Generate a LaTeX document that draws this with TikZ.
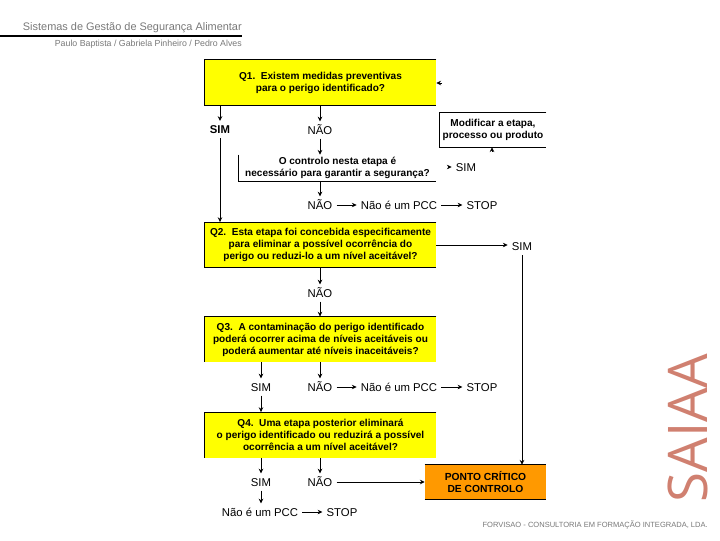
\documentclass[tikz,border=0pt]{standalone}
\usepackage{fontspec}
\setmainfont{Liberation Sans}
\newfontfamily\saiaafont{Open Sans}
\usetikzlibrary{arrows.meta}
\definecolor{qyellow}{RGB}{255,255,0}
\definecolor{pccorange}{RGB}{255,153,0}
\definecolor{saiaared}{RGB}{208,128,112}
\definecolor{headgray}{RGB}{120,120,120}
\tikzset{
  qbox/.style={fill=qyellow,inner sep=0pt,minimum width=173.25pt,minimum height=34pt,align=center,font=\bfseries\fontsize{7.55}{9}\selectfont},
  answer/.style={inner sep=3pt,text height=6.2pt,text depth=0.2pt,font=\fontsize{8.5}{9}\selectfont},
  flow/.style={-{Stealth[length=3.6pt,width=3.4pt]},line width=0.6pt},
  edge/.style={line width=0.7pt},
}
\begin{document}
\begin{tikzpicture}[x=0.75pt,y=0.75pt,yscale=-1,xscale=1]
\useasboundingbox (0,0) rectangle (720,540);

% Header
\node (title) [anchor=east,inner sep=0pt,text=headgray,font=\fontsize{8.2}{9}\selectfont] at (242,28) {Sistemas de Gestão de Segurança Alimentar};
\node (authors) [anchor=east,inner sep=0pt,text=headgray,font=\fontsize{6.6}{7}\selectfont] at (242,44.5) {Paulo Baptista / Gabriela Pinheiro / Pedro Alves};
\coordinate (barleft) at (0,36);
\draw [line width=2pt] (barleft) -- (barleft -| title.east);

% Question boxes
\node (q1) [qbox] at (320.5,82.5) {Q1.\ \ Existem medidas preventivas\\para o perigo identificado?};
\node (q2) [qbox] at (320.5,245) {Q2.\ \ Esta etapa foi concebida especificamente\\para eliminar a possível ocorrência do\\perigo ou reduzi-lo a um nível aceitável?};
\node (q3) [qbox] at (320.5,339.5) {Q3.\ \ A contaminação do perigo identificado\\poderá ocorrer acima de níveis aceitáveis ou\\poderá aumentar até níveis inaceitáveis?};
\node (q4) [qbox] at (320.5,435) {Q4.\ \ Uma etapa posterior eliminará\\o perigo identificado ou reduzirá a possível\\ocorrência a um nível aceitável?};
\node (pcc) [fill=pccorange,inner sep=0pt,minimum width=90.75pt,minimum height=25.5pt,align=center,font=\bfseries\fontsize{7.7}{9.5}\selectfont] at (485.5,482) {PONTO CRÍTICO\\DE CONTROLO};
\node (control) [inner sep=0pt,minimum width=147.75pt,minimum height=19.5pt,align=center,font=\bfseries\fontsize{7.55}{9}\selectfont] at (337.5,168) {O controlo nesta etapa é\\necessário para garantir a segurança?};
\node (modify) [inner sep=0pt,minimum width=79.5pt,minimum height=25.5pt,align=center,font=\bfseries\fontsize{7.55}{9}\selectfont] at (493,130) {Modificar a etapa,\\processo ou produto};

% Open borders
\draw [edge] (q1.north east) -- (q1.north west) -- (q1.south west) -- (q1.south east);
\draw [edge] (q2.north east) -- (q2.north west) -- (q2.south west) -- (q2.south east);
\draw [edge] (q3.north east) -- (q3.north west) -- (q3.south west);
\draw [edge] (q4.north east) -- (q4.north west) -- (q4.south west);
\draw [edge] (pcc.north west) -- (pcc.north east);
\draw [edge] (pcc.south west) -- (pcc.south east);
\draw [edge] (control.north west) -- (control.south west) -- (control.south east);
\draw [edge] (modify.north east) -- (modify.north west) -- (modify.south west) -- (modify.south east);

% Text Node
\node (sim1) [answer,font=\bfseries\fontsize{8.5}{9}\selectfont] at (220,129.5) {SIM};
\node (nao1) [answer] at (320,130) {NÃO};
\node (sim2) [answer] at (466,167) {SIM};
\node (nao2) [answer] at (320,205) {NÃO};
\node (npcc1) [answer] at (399,205) {Não é um PCC};
\node (stop1) [answer] at (482,205) {STOP};
\node (sim3) [answer] at (522,246.5) {SIM};
\node (nao3) [answer] at (320,293) {NÃO};
\node (sim4) [answer] at (261,387) {SIM};
\node (nao4) [answer] at (320,387) {NÃO};
\node (npcc2) [answer] at (399,387) {Não é um PCC};
\node (stop2) [answer] at (482,387) {STOP};
\node (sim5) [answer] at (261,482) {SIM};
\node (nao5) [answer] at (320,482) {NÃO};
\node (npcc3) [answer] at (260,512) {Não é um PCC};
\node (stop3) [answer] at (342,512) {STOP};

% Footer
\node (footer) [anchor=east,inner sep=0pt,text=headgray,font=\fontsize{5.65}{6}\selectfont] at (708,525) {FORVISAO - CONSULTORIA EM FORMAÇÃO INTEGRADA, LDA.};
\node (saiaa) [rotate=90,inner sep=0pt,text=saiaared,font=\saiaafont\fontsize{41}{41}\selectfont] at (688,428) {SAIAA};

% Straight Lines
\draw [flow] (q1.south -| sim1) -- (sim1.north);
\draw [flow] (q1.south -| nao1) -- (nao1.north);
\draw [flow] (sim1.south) -- (q2.north -| sim1);
\draw [flow] (nao1.south) -- (control.north -| nao1);
\draw [flow] (control.south -| nao2) -- (nao2.north);
\draw [flow] (nao2.east) -- (npcc1.west);
\draw [flow] (npcc1.east) -- (stop1.west);
\draw [flow] (q2.south -| nao3) -- (nao3.north);
\draw [flow] (nao3.south) -- (q3.north -| nao3);
\draw [flow] (q2.east) -- (q2.east -| sim3.west);
\draw [flow] (sim3.south) -- (pcc.north -| sim3);
\draw [flow] (q3.south -| sim4) -- (sim4.north);
\draw [flow] (q3.south -| nao4) -- (nao4.north);
\draw [flow] (sim4.south) -- (q4.north -| sim4);
\draw [flow] (nao4.east) -- (npcc2.west);
\draw [flow] (npcc2.east) -- (stop2.west);
\draw [flow] (q4.south -| sim5) -- (sim5.north);
\draw [flow] (q4.south -| nao5) -- (nao5.north);
\draw [flow] (sim5.south) -- (npcc3.north -| sim5);
\draw [flow] (nao5.east) -- (pcc.west |- nao5.east);
\draw [flow] (npcc3.east) -- (stop3.west);

% Arrow fragments
\coordinate (tipa) at (442,83);
\coordinate (tipb) at (492,151.5);
\coordinate (tipc) at (449,167);
\draw [flow] (tipa) -- (q1.east |- tipa);
\draw [flow] (tipb) -- (modify.south -| tipb);
\draw [flow] (tipc) -- (sim2.west);

\end{tikzpicture}
\end{document}
